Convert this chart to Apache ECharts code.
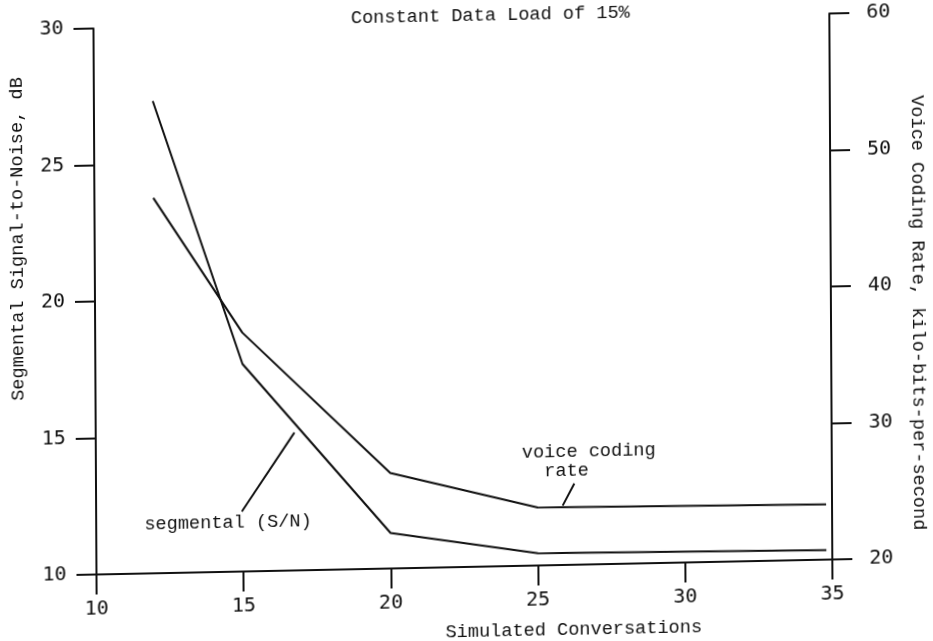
<!DOCTYPE html>
<html>
<head>
<meta charset="utf-8">
<script src="https://cdn.jsdelivr.net/npm/echarts@6/dist/echarts.min.js"></script>
<style>
  html, body { margin: 0; padding: 0; background: #ffffff; }
  #chart {
    width: 933px; height: 641px;
    /* slight plotter skew */
    transform: matrix(1, -0.0204, 0.0055, 1, 0, 0);
    transform-origin: 463px 294px;
  }
</style>
</head>
<body>
<div id="chart"></div>
<script>
// Simulated conversations (x) and the two measured curves
const conversations = [12, 15, 20, 25, 34.8];
const segmentalSN = [27.3, 17.6, 11.3, 10.45, 10.35];      // dB, left axis
const voiceCodingRate = [47.5, 37.5, 27.0, 24.25, 24.05];  // kbit/s, right axis

// Axis ranges and tick spacing
const xRange = [10, 35, 5];
const snRange = [10, 30, 5];
const rateRange = [20, 60, 10];

// Annotation leader lines, in data units
const snLeader = [[14.95, 12.2], [16.75, 15.05]];       // left-axis units
const rateLeader = [[25.85, 24.35], [26.25, 25.95]];    // right-axis units

// Annotation anchors, in data units
const snLabelAt = [14.48, 11.8];
const rateLabelAt = [24.47, 28.23];

const textFont = "'Liberation Mono', 'DejaVu Sans Mono', monospace";
const tickFont = "'DejaVu Sans Mono', 'Liberation Mono', monospace";
const ink = '#111111';

const pair = (xs, ys) => xs.map((x, i) => [x, ys[i]]);

const chart = echarts.init(document.getElementById('chart'), null, { renderer: 'canvas' });

const axisLine = { show: true, onZero: false, lineStyle: { color: ink, width: 2 } };
const axisTick = { show: true, inside: false, length: 20, lineStyle: { color: ink, width: 2 } };

chart.setOption({
  animation: false,
  backgroundColor: '#ffffff',
  grid: { left: 95, right: 102, top: 21, bottom: 74, containLabel: false },
  xAxis: {
    type: 'value', min: xRange[0], max: xRange[1], interval: xRange[2],
    axisLine, axisTick, splitLine: { show: false },
    axisLabel: { margin: 25, color: ink, fontFamily: tickFont, fontSize: 20 }
  },
  yAxis: [
    {
      type: 'value', position: 'left', min: snRange[0], max: snRange[1], interval: snRange[2],
      axisLine, axisTick, splitLine: { show: false },
      axisLabel: { margin: 30, color: ink, fontFamily: tickFont, fontSize: 20 }
    },
    {
      type: 'value', position: 'right', min: rateRange[0], max: rateRange[1], interval: rateRange[2],
      axisLine, axisTick, splitLine: { show: false },
      axisLabel: { margin: 37, color: ink, fontFamily: tickFont, fontSize: 20 }
    }
  ],
  series: [
    {
      name: 'segmental (S/N)', type: 'line', yAxisIndex: 0,
      data: pair(conversations, segmentalSN),
      symbol: 'none', lineStyle: { color: ink, width: 2 }
    },
    {
      name: 'voice coding rate', type: 'line', yAxisIndex: 1,
      data: pair(conversations, voiceCodingRate),
      symbol: 'none', lineStyle: { color: ink, width: 2 }
    },
    {
      type: 'line', yAxisIndex: 0, data: snLeader,
      symbol: 'none', lineStyle: { color: ink, width: 2 }
    },
    {
      type: 'line', yAxisIndex: 1, data: rateLeader,
      symbol: 'none', lineStyle: { color: ink, width: 2 }
    }
  ]
});

const snPx = chart.convertToPixel({ xAxisIndex: 0, yAxisIndex: 0 }, snLabelAt);
const ratePx = chart.convertToPixel({ xAxisIndex: 0, yAxisIndex: 1 }, rateLabelAt);

const textStyle = (extra) => Object.assign({ fill: ink, font: '18.6px ' + textFont }, extra);

chart.setOption({
  graphic: [
    {
      type: 'text', x: 492, y: 16,
      style: textStyle({ text: 'Constant Data Load of 15%', align: 'center', verticalAlign: 'middle' })
    },
    {
      type: 'text', x: 18, y: 230, rotation: Math.PI / 2,
      style: textStyle({ text: 'Segmental Signal-to-Noise, dB', align: 'center', verticalAlign: 'middle' })
    },
    {
      type: 'text', x: 918, y: 322, rotation: -Math.PI / 2,
      style: textStyle({ text: 'Voice Coding Rate, kilo-bits-per-second', align: 'center', verticalAlign: 'middle' })
    },
    {
      type: 'text', x: 572, y: 632,
      style: textStyle({ text: 'Simulated Conversations', align: 'center', verticalAlign: 'middle' })
    },
    {
      type: 'text', x: snPx[0], y: snPx[1],
      style: textStyle({ text: 'segmental (S/N)', align: 'center', verticalAlign: 'middle' })
    },
    {
      type: 'text', x: ratePx[0], y: ratePx[1] - 10,
      style: textStyle({ text: 'voice coding\n  rate', align: 'left', verticalAlign: 'top', lineHeight: 19 })
    }
  ]
});
</script>
</body>
</html>
